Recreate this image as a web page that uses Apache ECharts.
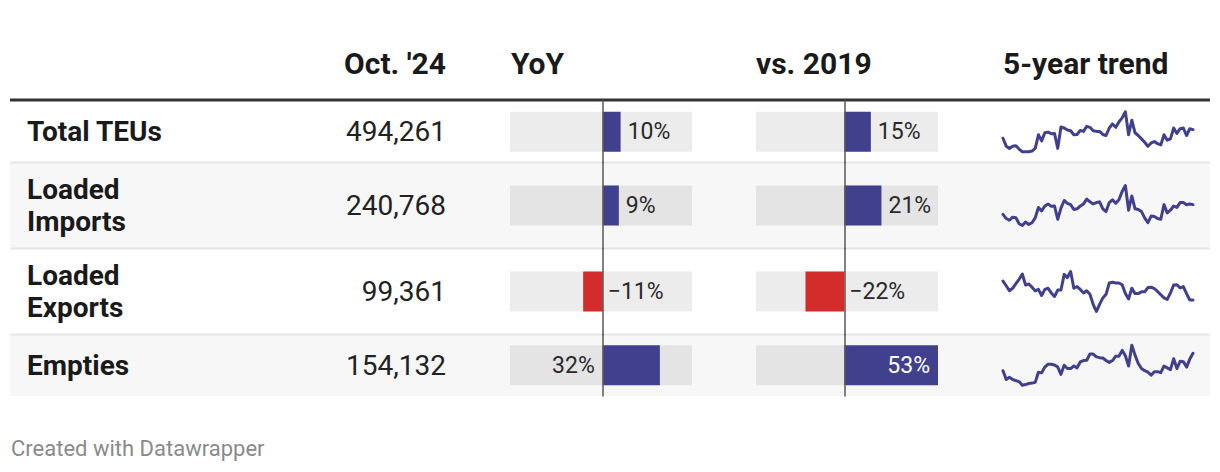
<!DOCTYPE html>
<html><head><meta charset="utf-8">
<script src="https://cdn.jsdelivr.net/npm/echarts@6/dist/echarts.min.js"></script>
<style>html,body{margin:0;padding:0;background:#fff}#c{width:1220px;height:472px}</style>
</head><body><div id="c"></div>
<script>
// ---- data ----
const headers = ["Oct. '24", 'YoY', 'vs. 2019', '5-year trend'];
const rowLabels = ['Total TEUs', 'Loaded\nImports', 'Loaded\nExports', 'Empties'];
const octValues = [494261, 240768, 99361, 154132];
const yoyPct = [10, 9, -11, 32];
const vs2019Pct = [15, 21, -22, 53];
// 5-year monthly trend, thousands of TEUs (Nov 2019 – Oct 2024), read from the sparklines
const trendTotal = [464.5,436.2,429.1,436.2,438.5,426.7,417.3,417.3,417.3,419.7,429.1,476.3,455.1,483.4,485.7,479.8,481.0,429.1,503.4,499.9,492.8,490.5,476.3,477.5,491.6,488.1,505.8,502.3,490.5,488.1,488.1,477.5,473.9,499.9,514.1,502.3,521.1,535.3,556.5,476.3,527.0,483.4,473.9,462.1,450.3,436.2,448.0,452.7,445.6,440.9,476.3,457.4,462.1,499.9,481.0,497.5,499.9,473.9,497.5,494.3];
const trendImports = [224.4,217.4,214.5,219.7,218.6,208.6,205.7,211.5,207.5,210.4,218.6,236.1,230.3,238.5,242.0,237.9,238.5,216.2,235.0,247.8,243.1,240.8,232.6,233.8,238.5,242.0,250.2,245.5,242.0,244.3,245.5,233.8,229.1,244.3,249.0,243.1,249.0,263.0,273.0,231.4,255.4,233.8,232.6,229.1,218.6,210.4,221.5,220.9,217.4,216.2,240.8,226.8,231.4,238.5,236.1,244.3,244.3,240.8,242.0,240.8];
const trendExports = [119.7,114.7,109.3,112.0,117.0,121.6,127.3,115.5,116.6,113.2,109.3,110.8,104.3,110.8,112.0,107.0,103.2,110.1,110.1,126.9,123.5,130.0,112.0,113.9,110.8,107.0,109.3,105.5,94.8,87.1,94.8,101.7,105.5,117.7,118.5,117.7,117.7,115.8,106.3,100.5,112.0,106.3,106.3,108.2,108.2,112.8,113.2,111.6,108.6,105.1,101.7,100.1,107.0,115.5,115.8,112.4,113.9,106.3,99.4,99.4];
const trendEmpties = [119.1,101.5,105.9,101.5,99.3,97.2,89.9,91.3,93.5,94.2,95.7,116.1,114.7,126.4,132.2,132.2,130.7,126.4,111.8,130.0,123.4,123.4,128.5,124.9,136.6,139.5,140.2,152.6,152.6,146.8,145.3,144.6,139.5,135.8,139.5,148.3,148.3,159.9,149.0,128.5,170.2,150.4,133.7,123.4,119.1,116.1,110.3,116.9,116.9,115.4,128.5,124.9,121.2,143.1,123.4,138.0,137.3,126.4,142.4,154.1];
const trends = [trendTotal, trendImports, trendExports, trendEmpties];
const footer = 'Created with Datawrapper';

// ---- layout / style ----
const FONT = 'Roboto, "Noto Sans", sans-serif';
const BLUE = '#40408f', RED = '#d42b2b';
const rowEdges = [101, 162.5, 248.5, 334.5, 396];
const months = trendTotal.map((_, i) => {
  const d = new Date(2019, 10 + i, 1);
  return d.getFullYear() + '-' + String(d.getMonth() + 1).padStart(2, '0');
});
const cols = [
  { vals: yoyPct, left: 510, width: 182, min: -52, max: 50 },
  { vals: vs2019Pct, left: 756, width: 182, min: -50, max: 53 }
];
function fmt(v) { return (v < 0 ? '\u2212' : '') + Math.abs(v) + '%'; }
function labelFor(v, c) {
  const scale = c.width / (c.max - c.min);
  const base = { show: true, formatter: p => fmt(p.value), fontFamily: FONT, fontSize: 23, color: '#2a2a2a' };
  const room = (c.max - Math.max(v, 0)) * scale;
  if (v < 0) return Object.assign(base, { position: 'right', distance: 5 });
  if (room >= 52) return Object.assign(base, { position: 'right', distance: 7 });
  if (v * scale >= 80) return Object.assign(base, { position: 'insideRight', distance: 8, color: '#fff' });
  return Object.assign(base, { position: 'left', distance: 8 });
}

const grids = [], xAxes = [], yAxes = [], series = [];
rowLabels.forEach((lab, r) => {
  const top = rowEdges[r], h = rowEdges[r + 1] - rowEdges[r];
  cols.forEach(c => {
    const gi = grids.length;
    grids.push({ left: c.left, top: top, width: c.width, height: h });
    xAxes.push({ type: 'value', gridIndex: gi, min: c.min, max: c.max, show: false });
    yAxes.push({ type: 'category', gridIndex: gi, data: [lab], z: 5,
      axisLine: { show: true, onZero: true, lineStyle: { color: '#595959', width: 1.5 } },
      axisTick: { show: false }, axisLabel: { show: false }, splitLine: { show: false } });
    const v = c.vals[r];
    series.push({ type: 'bar', xAxisIndex: gi, yAxisIndex: gi, barWidth: 40, silent: true,
      showBackground: true, backgroundStyle: { color: 'rgba(0,0,0,0.075)' },
      data: [{ value: v, itemStyle: { color: v < 0 ? RED : BLUE }, label: labelFor(v, c) }] });
  });
  const gi = grids.length;
  const mid = (rowEdges[r] + rowEdges[r + 1]) / 2;
  grids.push({ left: 1003, width: 190, top: mid - 20, height: 40 });
  xAxes.push({ type: 'category', gridIndex: gi, data: months, boundaryGap: false, show: false });
  yAxes.push({ type: 'value', gridIndex: gi, min: 'dataMin', max: 'dataMax', scale: true, show: false });
  series.push({ type: 'line', xAxisIndex: gi, yAxisIndex: gi, data: trends[r], symbol: 'none', clip: false,
    silent: true, lineStyle: { color: BLUE, width: 3, join: 'round', cap: 'round' } });
});

function txt(x, y, text, opt) {
  return { type: 'text', x: x, y: y, silent: true, style: Object.assign({
    text: text, fill: '#1a1a1a', font: '28px ' + FONT,
    align: 'left', textAlign: 'left', verticalAlign: 'middle', textVerticalAlign: 'middle'
  }, opt || {}) };
}
const graphic = [];
// striped rows and separators
rowLabels.forEach((_, r) => {
  const top = rowEdges[r], h = rowEdges[r + 1] - rowEdges[r];
  if (r % 2 === 1) graphic.push({ type: 'rect', silent: true, z: -10, shape: { x: 10, y: top, width: 1200, height: h }, style: { fill: '#f7f7f7' } });
  if (r > 0) graphic.push({ type: 'rect', silent: true, z: -5, shape: { x: 10, y: top - 1, width: 1200, height: 2 }, style: { fill: '#e6e6e6' } });
});
graphic.push({ type: 'rect', silent: true, shape: { x: 10, y: 98.5, width: 1200, height: 3 }, style: { fill: '#333' } });
// header
const hdrY = 63;
const HF = 'bold 30px ' + FONT;
graphic.push(txt(446, hdrY, headers[0], { font: HF, align: 'right', textAlign: 'right' }));
graphic.push(txt(511, hdrY, headers[1], { font: HF }));
graphic.push(txt(756, hdrY, headers[2], { font: HF }));
graphic.push(txt(1003, hdrY, headers[3], { font: HF }));
// rows
rowLabels.forEach((lab, r) => {
  const mid = (rowEdges[r] + rowEdges[r + 1]) / 2;
  graphic.push(txt(27, mid, lab, { font: 'bold 28px ' + FONT, lineHeight: 32 }));
  graphic.push(txt(446, mid, octValues[r].toLocaleString('en-US'), { font: '28px ' + FONT, fill: '#222', align: 'right', textAlign: 'right' }));
});
graphic.push(txt(11, 448, footer, { font: '22px ' + FONT, fill: '#8a8a8a' }));

const chart = echarts.init(document.getElementById('c'), null, { renderer: 'svg', width: 1220, height: 472 });
chart.setOption({
  animation: false,
  backgroundColor: '#ffffff',
  textStyle: { fontFamily: FONT },
  grid: grids, xAxis: xAxes, yAxis: yAxes, series: series,
  graphic: graphic
});
</script>
</body></html>
